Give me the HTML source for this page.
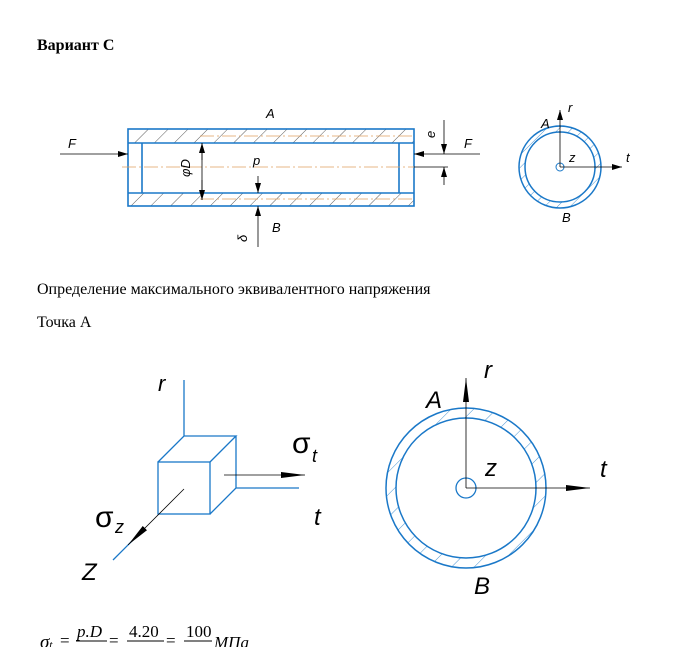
<!DOCTYPE html><html><head><meta charset="utf-8"><style>
body{margin:0;background:#fff;width:674px;height:647px;overflow:hidden;position:relative;font-family:"Liberation Serif",serif}
.t{position:absolute;font-size:16px;color:#000;white-space:nowrap}
svg{position:absolute;left:0;top:0}
</style></head><body>
<div class="t" style="left:37px;top:37px;font-weight:bold">Вариант С</div>
<div class="t" style="left:37px;top:281px">Определение максимального эквивалентного напряжения</div>
<div class="t" style="left:37px;top:314px">Точка А</div>
<svg width="674" height="647" viewBox="0 0 674 647">
<defs>
<pattern id="h" width="14" height="14" patternUnits="userSpaceOnUse" patternTransform="rotate(45)"><line x1="0" y1="0" x2="0" y2="14" stroke="#333" stroke-width="0.8"/></pattern>
<pattern id="h2" width="9" height="9" patternUnits="userSpaceOnUse" patternTransform="rotate(45)"><line x1="0" y1="0" x2="0" y2="9" stroke="#1a78c8" stroke-width="0.8"/></pattern>
<pattern id="h3" width="16" height="16" patternUnits="userSpaceOnUse" patternTransform="rotate(45)"><line x1="0" y1="0" x2="0" y2="16" stroke="#1a78c8" stroke-width="0.8"/></pattern>
<marker id="a" markerWidth="10" markerHeight="6" refX="10" refY="3" orient="auto" markerUnits="userSpaceOnUse"><path d="M0,0 L10,3 L0,6z" fill="#000"/></marker>
<marker id="b" markerWidth="24" markerHeight="8" refX="24" refY="4" orient="auto" markerUnits="userSpaceOnUse"><path d="M0,1 L24,4 L0,7z" fill="#000"/></marker>
</defs>
<g font-family="Liberation Sans,sans-serif" font-style="italic" font-size="13" fill="#000">
<rect x="128" y="129" width="286" height="14" fill="url(#h)"/>
<rect x="128" y="193" width="286" height="13" fill="url(#h)"/>
<g stroke="#1a78c8" stroke-width="1.6" fill="none">
<rect x="128" y="129" width="286" height="77"/>
<line x1="128" y1="143" x2="414" y2="143"/><line x1="128" y1="193" x2="414" y2="193"/>
<line x1="142" y1="143" x2="142" y2="193"/><line x1="399" y1="143" x2="399" y2="193"/>
</g>
<g stroke="#e0a060" stroke-width="0.8" stroke-dasharray="14,3,2,3">
<line x1="122" y1="167" x2="414" y2="167"/><line x1="200" y1="136" x2="414" y2="136"/><line x1="200" y1="199" x2="414" y2="199"/>
</g>
<g stroke="#000" stroke-width="0.8" fill="none">
<line x1="60" y1="154" x2="128" y2="154" marker-end="url(#a)"/>
<line x1="480" y1="154" x2="414" y2="154" marker-end="url(#a)"/>
<line x1="202" y1="143" x2="202" y2="200"/>
<line x1="202" y1="160" x2="202" y2="143" marker-end="url(#a)"/><line x1="202" y1="180" x2="202" y2="200" marker-end="url(#a)"/>
<line x1="414" y1="167" x2="448" y2="167"/>
<line x1="444" y1="120" x2="444" y2="154" marker-end="url(#a)"/><line x1="444" y1="185" x2="444" y2="167" marker-end="url(#a)"/>
<line x1="258" y1="176" x2="258" y2="193" marker-end="url(#a)"/><line x1="258" y1="247" x2="258" y2="206" marker-end="url(#a)"/>
</g>
<text x="266" y="118">A</text><text x="272" y="232">B</text><text x="68" y="148">F</text><text x="464" y="148">F</text>
<text x="253" y="165">p</text>
<text transform="translate(190,177) rotate(-90)">φD</text>
<text transform="translate(435,138) rotate(-90)">e</text>
<text transform="translate(247,242) rotate(-90)">δ</text>
<path d="M519,167 a41,41 0 1,0 82,0 a41,41 0 1,0 -82,0z M525,167 a35,35 0 1,0 70,0 a35,35 0 1,0 -70,0z" fill="url(#h2)" fill-rule="evenodd" stroke="#1a78c8" stroke-width="1.5"/>
<circle cx="560" cy="167" r="4" fill="none" stroke="#1a78c8"/>
<g stroke="#000" stroke-width="0.8"><line x1="560" y1="167" x2="560" y2="110" marker-end="url(#a)"/><line x1="560" y1="167" x2="622" y2="167" marker-end="url(#a)"/></g>
<text x="541" y="128">A</text><text x="568" y="112">r</text><text x="569" y="162">z</text><text x="626" y="162">t</text><text x="562" y="222">B</text>
</g>
<g stroke="#1a78c8" stroke-width="1.3" fill="none">
<rect x="158" y="462" width="52" height="52"/>
<path d="M158,462 L184,436 L236,436 L210,462 M236,436 L236,488 L210,514 M184,436 L184,380 M236,488 L299,488 M113,560 L135,538"/>
</g>
<g stroke="#000" stroke-width="0.8" fill="none">
<line x1="224" y1="475" x2="305" y2="475" marker-end="url(#b)"/>
<line x1="184" y1="489" x2="128" y2="545" marker-end="url(#b)"/>
</g>
<g font-family="Liberation Sans,sans-serif" font-style="italic" fill="#000">
<text x="158" y="391" font-size="22">r</text>
<text x="292" y="453" font-size="30" font-style="normal">σ</text><text x="312" y="462" font-size="18">t</text>
<text x="314" y="525" font-size="24">t</text>
<text x="95" y="527" font-size="30" font-style="normal">σ</text><text x="115" y="533" font-size="18">z</text>
<text x="82" y="580" font-size="24">Z</text>
</g>
<path d="M386,488 a80,80 0 1,0 160,0 a80,80 0 1,0 -160,0z M396,488 a70,70 0 1,0 140,0 a70,70 0 1,0 -140,0z" fill="url(#h3)" fill-rule="evenodd" stroke="#1a78c8" stroke-width="1.5"/>
<circle cx="466" cy="488" r="10" fill="none" stroke="#1a78c8" stroke-width="1.3"/>
<g stroke="#000" stroke-width="0.8"><line x1="466" y1="488" x2="466" y2="378" marker-end="url(#b)"/><line x1="466" y1="488" x2="590" y2="488" marker-end="url(#b)"/></g>
<g font-family="Liberation Sans,sans-serif" font-style="italic" fill="#000" font-size="24">
<text x="426" y="408">A</text><text x="484" y="378">r</text><text x="485" y="476">z</text><text x="600" y="477">t</text><text x="474" y="594">B</text>
</g>
<g font-family="Liberation Serif,serif" font-size="17" fill="#000">
<text x="40" y="648" font-style="italic" font-size="19">σ<tspan font-size="11">t</tspan></text>
<text x="60" y="646">=</text>
<text x="77" y="637" font-style="italic">p.D</text><line x1="76" y1="641" x2="107" y2="641" stroke="#000"/>
<text x="109" y="646">=</text>
<text x="129" y="637">4.20</text><line x1="127" y1="641" x2="164" y2="641" stroke="#000"/>
<text x="166" y="646">=</text>
<text x="186" y="637">100</text><line x1="184" y1="641" x2="212" y2="641" stroke="#000"/>
<text x="214" y="648" font-style="italic">МПа</text>
</g>
</svg>
</body></html>
